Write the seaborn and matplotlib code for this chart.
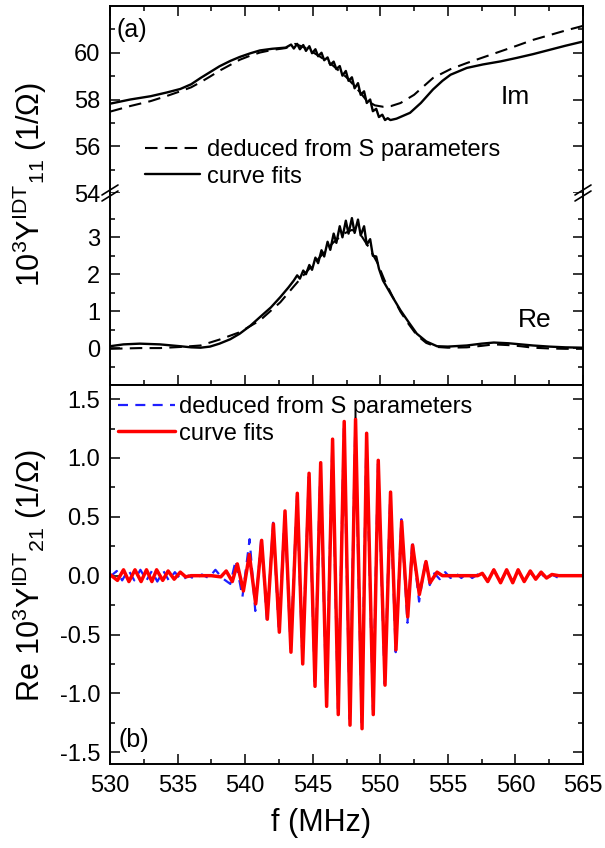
import matplotlib
matplotlib.use("Agg")
import matplotlib.pyplot as plt
import seaborn as sns
from matplotlib.lines import Line2D
from matplotlib.ticker import MultipleLocator, FixedLocator

# ---- panel (a), Im part (upper, 54..62) ----
im_fit_f = [530.0, 531.5, 533.0, 534.2, 535.2, 536.0, 536.7, 537.4, 538.1, 538.9, 539.6,
            540.4, 541.1, 542.0, 543.0, 543.4, 543.6, 543.85, 544.05, 544.3, 544.5, 544.75,
            544.95, 545.2, 545.4, 545.65, 545.85, 546.1, 546.3, 546.55, 546.75, 547.0, 547.2,
            547.45, 547.65, 547.9, 548.1, 548.35, 548.55, 548.8, 549.0, 549.25, 549.45, 549.7,
            549.9, 550.15, 550.35, 550.55, 550.75, 551.2, 552.2, 553.0, 553.9, 554.6, 555.2,
            556.4, 557.6, 558.9, 560.1, 561.3, 562.5, 563.7, 565.0]
im_fit_v = [57.82, 58.0, 58.14, 58.3, 58.45, 58.65, 58.92, 59.17, 59.42, 59.65, 59.82,
            59.98, 60.1, 60.17, 60.22, 60.35, 60.18, 60.38, 60.15, 60.33, 60.08, 60.28,
            59.98, 60.15, 59.85, 60.0, 59.68, 59.8, 59.48, 59.62, 59.3, 59.43, 59.02,
            59.22, 58.8, 58.95, 58.48, 58.7, 58.2, 58.35, 57.85, 58.0, 57.5, 57.6,
            57.25, 57.35, 57.12, 57.2, 57.12, 57.18, 57.43, 57.85, 58.43, 58.8, 59.06,
            59.35, 59.5, 59.63, 59.78, 59.94, 60.12, 60.3, 60.48]

im_meas_f = [530.0, 531.5, 533.0, 534.2, 535.2, 536.0, 536.7, 537.4, 538.1, 538.9, 539.6,
             540.4, 541.1, 542.0, 543.0, 543.7, 544.5, 545.5, 546.5, 547.5, 548.3, 549.0,
             549.6, 550.2, 550.8, 551.5, 552.5, 553.9, 555.2, 556.4, 557.6, 558.9, 560.1,
             561.3, 562.5, 563.7, 565.0]
im_meas_v = [57.48, 57.72, 57.93, 58.15, 58.35, 58.52, 58.74, 58.98, 59.23, 59.48, 59.7,
             59.88, 60.01, 60.12, 60.2, 60.38, 60.2, 59.85, 59.45, 58.95, 58.45, 57.95,
             57.75, 57.69, 57.72, 57.85, 58.2, 58.92, 59.3, 59.56, 59.8, 60.06, 60.3,
             60.55, 60.75, 60.95, 61.15]

# ---- panel (a), Re part (lower, -1..4.2) ----
re_fit_f = [530.0, 531.0, 532.2, 533.7, 535.2, 536.0, 536.7, 537.4, 538.1, 538.9, 539.6,
            540.4, 541.1, 541.9, 542.6, 543.2, 543.6, 543.85, 544.05, 544.3, 544.5, 544.75,
            544.95, 545.2, 545.4, 545.65, 545.85, 546.1, 546.3, 546.55, 546.75, 547.0, 547.2,
            547.45, 547.65, 547.9, 548.1, 548.35, 548.55, 548.8, 549.0, 549.25, 549.45, 549.7,
            549.9, 550.2, 550.8, 551.5, 552.1, 552.7, 553.4, 554.2, 555.0, 556.4, 557.5,
            558.4, 559.5, 560.4, 561.3, 562.5, 563.7, 565.0]
re_fit_v = [0.05, 0.10, 0.12, 0.10, 0.05, 0.02, 0.01, 0.04, 0.12, 0.24, 0.39,
            0.61, 0.84, 1.10, 1.38, 1.64, 1.83, 1.97, 1.88, 2.10, 2.00, 2.25,
            2.12, 2.45, 2.30, 2.65, 2.48, 2.88, 2.66, 3.10, 2.85, 3.30, 3.00,
            3.45, 3.10, 3.52, 3.12, 3.48, 3.05, 3.30, 2.80, 2.95, 2.50, 2.48,
            2.15, 1.83, 1.45, 1.02, 0.70, 0.39, 0.18, 0.05, 0.04, 0.07, 0.12,
            0.15, 0.13, 0.10, 0.07, 0.04, 0.02, 0.01]

re_meas_f = [530.0, 532.2, 533.7, 535.2, 536.7, 538.1, 539.6, 541.1, 542.6, 543.6, 544.5,
             545.5, 546.5, 547.3, 547.9, 548.5, 549.2, 549.8, 550.3, 550.9, 551.5, 552.1,
             552.7, 553.4, 554.2, 555.0, 556.4, 557.5, 558.4, 559.5, 560.4, 561.3, 562.5,
             563.7, 565.0]
re_meas_v = [-0.02, 0.0, 0.0, 0.03, 0.07, 0.23, 0.43, 0.75, 1.24, 1.67, 2.05,
             2.45, 2.85, 3.1, 3.2, 3.1, 2.7, 2.3, 1.85, 1.40, 0.98, 0.65,
             0.35, 0.14, 0.03, 0.01, 0.02, 0.06, 0.10, 0.08, 0.05, 0.01, -0.01,
             -0.02, -0.02]

# ---- panel (b): Re Y21 ----
y21_fit_f = [530.0, 530.55, 531.0, 531.4, 531.85, 532.3, 532.7, 533.1, 533.45, 533.9, 534.3,
             534.75, 535.2, 535.6, 536.0, 537.5, 538.2, 538.6, 539.05, 539.42, 539.87, 540.31,
             540.78, 541.22, 541.64, 542.09, 542.53, 542.95, 543.39, 543.86, 544.26, 544.73,
             545.17, 545.59, 546.03, 546.47, 546.89, 547.33, 547.76, 548.17, 548.65, 548.99,
             549.48, 549.85, 550.35, 550.76, 551.16, 551.58, 552.03, 552.39, 552.89, 553.38,
             553.68, 554.2, 554.6, 557.2, 557.55, 557.95, 558.4, 558.9, 559.35, 559.8, 560.2,
             560.65, 561.1, 561.5, 561.9, 562.3, 562.7, 563.2, 565.0]
y21_fit_v = [0.01, -0.04, 0.05, -0.05, 0.05, -0.05, 0.05, -0.05, 0.05, -0.04, 0.04,
             -0.03, 0.03, -0.01, 0.0, 0.0, -0.01, 0.04, -0.05, 0.10, -0.13, 0.18,
             -0.24, 0.30, -0.37, 0.44, -0.48, 0.55, -0.65, 0.70, -0.75, 0.87,
             -0.94, 0.96, -1.11, 1.16, -1.18, 1.31, -1.27, 1.33, -1.30, 1.21,
             -1.18, 0.98, -0.93, 0.71, -0.63, 0.46, -0.35, 0.26, -0.16, 0.12,
             -0.06, 0.03, 0.0, 0.0, 0.02, -0.05, 0.05, -0.06, 0.05, -0.06, 0.05,
             -0.05, 0.04, -0.03, 0.03, -0.02, 0.01, 0.0, 0.0]

y21_meas_f = [530.0, 530.5, 530.9, 531.35, 531.8, 532.25, 532.7, 533.1, 533.5, 533.95, 534.35,
              534.8, 535.3, 535.8, 536.3, 536.8, 537.3, 537.8, 538.3, 538.9, 539.3, 539.8,
              540.33, 540.75, 541.2, 541.62, 542.07, 542.5, 542.93, 543.37, 543.84, 544.24,
              544.71, 545.15, 545.57, 546.01, 546.45, 546.87, 547.31, 547.74, 548.15, 548.63,
              548.97, 549.46, 549.83, 550.33, 550.74, 551.14, 551.56, 552.01, 552.37, 552.87,
              553.36, 553.66, 554.0, 554.4, 554.8, 555.2, 555.6, 556.0, 556.4, 556.8, 557.2,
              557.55, 557.95, 558.4, 558.9, 559.35, 559.8, 560.2, 560.65, 561.1, 561.5,
              561.9, 562.3, 562.7, 563.2, 563.7]
y21_meas_v = [-0.01, 0.04, -0.04, 0.05, -0.04, 0.05, -0.04, 0.04, -0.05, 0.04, -0.04,
              0.03, -0.04, 0.0, -0.03, 0.01, -0.02, 0.05, -0.02, -0.07, 0.13, -0.18,
              0.31, -0.30, 0.33, -0.40, 0.45, -0.48, 0.53, -0.62, 0.68, -0.72,
              0.84, -0.90, 0.93, -1.06, 1.12, -1.13, 1.25, -1.22, 1.27, -1.25,
              1.16, -1.14, 0.95, -0.92, 0.70, -0.65, 0.48, -0.40, 0.30, -0.22,
              0.14, -0.08, 0.02, -0.03, 0.03, -0.02, 0.02, -0.02, 0.02, -0.02, 0.01,
              0.03, -0.05, 0.05, -0.05, 0.04, -0.05, 0.04, -0.04, 0.03, -0.03,
              0.02, -0.03, 0.01, -0.02, 0.0]

legend_labels = ["deduced from S parameters", "curve fits"]

sns.set_theme(style="ticks")
plt.rcParams["font.family"] = ["Liberation Sans", "DejaVu Sans"]
plt.rcParams["mathtext.fontset"] = "custom"
plt.rcParams["mathtext.rm"] = "Liberation Sans"
plt.rcParams["axes.unicode_minus"] = False
plt.rcParams["text.color"] = "black"
plt.rcParams["axes.labelcolor"] = "black"
plt.rcParams["xtick.color"] = "black"
plt.rcParams["ytick.color"] = "black"

W, H = 605, 848
fig = plt.figure(figsize=(W / 100, H / 100), dpi=100)
fig.patch.set_facecolor("white")


def box(top, bottom):
    return [110 / W, 1 - bottom / H, 473 / W, (bottom - top) / H]


ax_im = fig.add_axes(box(6, 193))
ax_re = fig.add_axes(box(193, 385))
ax_b = fig.add_axes(box(385, 764))

# panel (a)
sns.lineplot(x=im_meas_f, y=im_meas_v, color="black", lw=1.5, estimator=None,
             label=legend_labels[0], ax=ax_im)
ax_im.lines[-1].set_dashes((6, 3.5))
sns.lineplot(x=im_fit_f, y=im_fit_v, color="black", lw=1.7, estimator=None,
             label=legend_labels[1], ax=ax_im)
sns.lineplot(x=re_meas_f, y=re_meas_v, color="black", lw=1.5, estimator=None, ax=ax_re)
ax_re.lines[-1].set_dashes((6, 3.5))
sns.lineplot(x=re_fit_f, y=re_fit_v, color="black", lw=1.7, estimator=None, ax=ax_re)

# panel (b)
sns.lineplot(x=y21_meas_f, y=y21_meas_v, color="#1f1fff", lw=1.6, estimator=None,
             label=legend_labels[0], ax=ax_b)
ax_b.lines[-1].set_dashes((4.5, 3.3))
sns.lineplot(x=y21_fit_f, y=y21_fit_v, color="#ff0000", lw=2.5, estimator=None,
             label=legend_labels[1], ax=ax_b)

for ax in (ax_im, ax_re, ax_b):
    ax.set_xlim(530, 565)
    ax.xaxis.set_major_locator(MultipleLocator(5))
    ax.xaxis.set_minor_locator(MultipleLocator(2.5))
    ax.set_facecolor("white")
    ax.grid(False)
    for s in ax.spines.values():
        s.set_linewidth(1.4)
        s.set_color("black")
    ax.tick_params(which="both", direction="in", width=1.1, colors="black",
                   labelsize=17, pad=7, left=True, right=True)
    ax.tick_params(which="major", length=7)
    ax.tick_params(which="minor", length=3.5)
    ax.set_xlabel("")
    ax.set_ylabel("")

ax_im.set_ylim(54, 62)
ax_im.yaxis.set_major_locator(FixedLocator([54, 56, 58, 60]))
ax_im.yaxis.set_minor_locator(FixedLocator([55, 57, 59, 61]))
ax_im.spines["bottom"].set_visible(False)
ax_im.tick_params(which="both", top=True, bottom=False, labelbottom=False)

ax_re.set_ylim(-1.0, 4.2)
ax_re.yaxis.set_major_locator(FixedLocator([0, 1, 2, 3]))
ax_re.yaxis.set_minor_locator(FixedLocator([-0.5, 0.5, 1.5, 2.5, 3.5]))
ax_re.spines["top"].set_visible(False)
ax_re.tick_params(which="both", top=False, bottom=True, labelbottom=False)

ax_b.set_ylim(-1.6, 1.62)
ax_b.yaxis.set_major_locator(MultipleLocator(0.5))
ax_b.yaxis.set_minor_locator(MultipleLocator(0.25))
ax_b.yaxis.set_major_formatter(matplotlib.ticker.FormatStrFormatter("%.1f"))
ax_b.tick_params(which="both", top=False, bottom=True, pad=8)
ax_b.tick_params(axis="y", pad=7)

# axis break marks
for xb in (110, 583):
    for dy in (-3, 3):
        x0, y0 = xb - 8, 193 + dy + 5
        x1, y1 = xb + 8, 193 + dy - 5
        fig.add_artist(Line2D([x0 / W, x1 / W], [1 - y0 / H, 1 - y1 / H],
                              color="black", lw=1.2, transform=fig.transFigure))

ax_im.legend(loc="upper left", bbox_to_anchor=(145 / W, 1 - 139 / H),
             bbox_transform=fig.transFigure, frameon=False, fontsize=17,
             handlelength=2.33, handletextpad=0.3, labelspacing=0.2,
             borderpad=0, borderaxespad=0)
ax_b.legend(loc="upper left", bbox_to_anchor=(118 / W, 1 - 396 / H),
            bbox_transform=fig.transFigure, frameon=False, fontsize=17,
            handlelength=2.4, handletextpad=0.2, labelspacing=0.2,
            borderpad=0, borderaxespad=0)

fig.text(116 / W, 1 - 30 / H, "(a)", fontsize=18, ha="left", va="center")
fig.text(118 / W, 1 - 740 / H, "(b)", fontsize=18, ha="left", va="center")
fig.text(515 / W, 1 - 97 / H, "Im", fontsize=19, ha="center", va="center")
fig.text(535 / W, 1 - 320 / H, "Re", fontsize=19, ha="center", va="center")

fig.text(30 / W, 1 - 185 / H, r"$\mathregular{10^3Y^{IDT}{}_{11}}$ (1/Ω)",
         fontsize=22, rotation=90, ha="center", va="center")
fig.text(30 / W, 1 - 576 / H, r"Re $\mathregular{10^3Y^{IDT}{}_{21}}$ (1/Ω)",
         fontsize=22, rotation=90, ha="center", va="center")
fig.text(321 / W, 1 - 823 / H, "f (MHz)", fontsize=22, ha="center", va="center")

fig.savefig("out.png", dpi=100, facecolor="white")
